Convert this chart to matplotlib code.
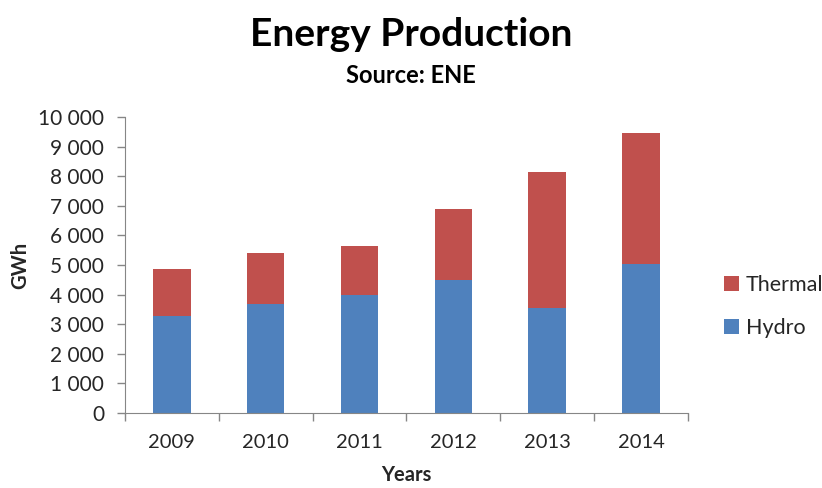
import matplotlib
matplotlib.use("Agg")
import matplotlib.pyplot as plt
from matplotlib.ticker import FuncFormatter, FixedLocator, NullFormatter
import numpy as np

years = ["2009", "2010", "2011", "2012", "2013", "2014"]
hydro = [3285, 3680, 3975, 4490, 3555, 5035]
thermal = [1580, 1725, 1660, 2395, 4585, 4425]

BLUE = "#4F81BD"
RED = "#C0504D"
GREY = "#868686"
TXT = "#262626"

plt.rcParams["font.family"] = ["Lato", "DejaVu Sans"]

fig = plt.figure(figsize=(8.22, 4.88), dpi=100)
ax = fig.add_axes([0.152, 0.154, 0.685, 0.606])

x = np.arange(len(years))
ax.bar(x, hydro, width=0.4, color=BLUE, label="Hydro", zorder=2)
ax.bar(x, thermal, width=0.4, bottom=hydro, color=RED, label="Thermal", zorder=2)

ax.set_xlim(-0.5, len(years) - 0.5)
ax.set_ylim(0, 10000)
ax.set_yticks(range(0, 10001, 1000))
ax.yaxis.set_major_formatter(FuncFormatter(lambda v, p: f"{int(v):,}".replace(",", " ")))
ax.set_xticks(x)
ax.set_xticklabels(years)
ax.xaxis.set_minor_locator(FixedLocator(np.arange(-0.5, len(years), 1.0)))
ax.xaxis.set_minor_formatter(NullFormatter())
ax.tick_params(axis="x", which="major", length=0, pad=15, labelsize=14.5, colors=TXT)
ax.tick_params(axis="x", which="minor", length=6, width=1, color=GREY)
ax.tick_params(axis="y", length=6, width=1, color=GREY, labelsize=15, labelcolor=TXT, pad=9)

for s in ("top", "right"):
    ax.spines[s].set_visible(False)
for s in ("left", "bottom"):
    ax.spines[s].set_color(GREY)

ax.set_xlabel("Years", fontsize=14.5, fontweight="bold", color=TXT, labelpad=10)
ax.set_ylabel("GWh", fontsize=14.5, fontweight="bold", color=TXT, labelpad=6)

fig.text(0.5, 0.93, "Energy Production", ha="center", va="center",
         fontsize=28, fontweight="bold", color="black")
fig.text(0.5, 0.845, "Source: ENE", ha="center", va="center",
         fontsize=17, fontweight="bold", color="black")

h, l = ax.get_legend_handles_labels()
fig.legend(h[::-1], l[::-1], loc="center left", bbox_to_anchor=(0.881, 0.372),
           frameon=False, fontsize=15.5, handlelength=0.7, handleheight=0.7,
           handletextpad=0.3, labelspacing=1.1, labelcolor=TXT,
           borderaxespad=0, borderpad=0)

fig.savefig("out.png", dpi=100)
